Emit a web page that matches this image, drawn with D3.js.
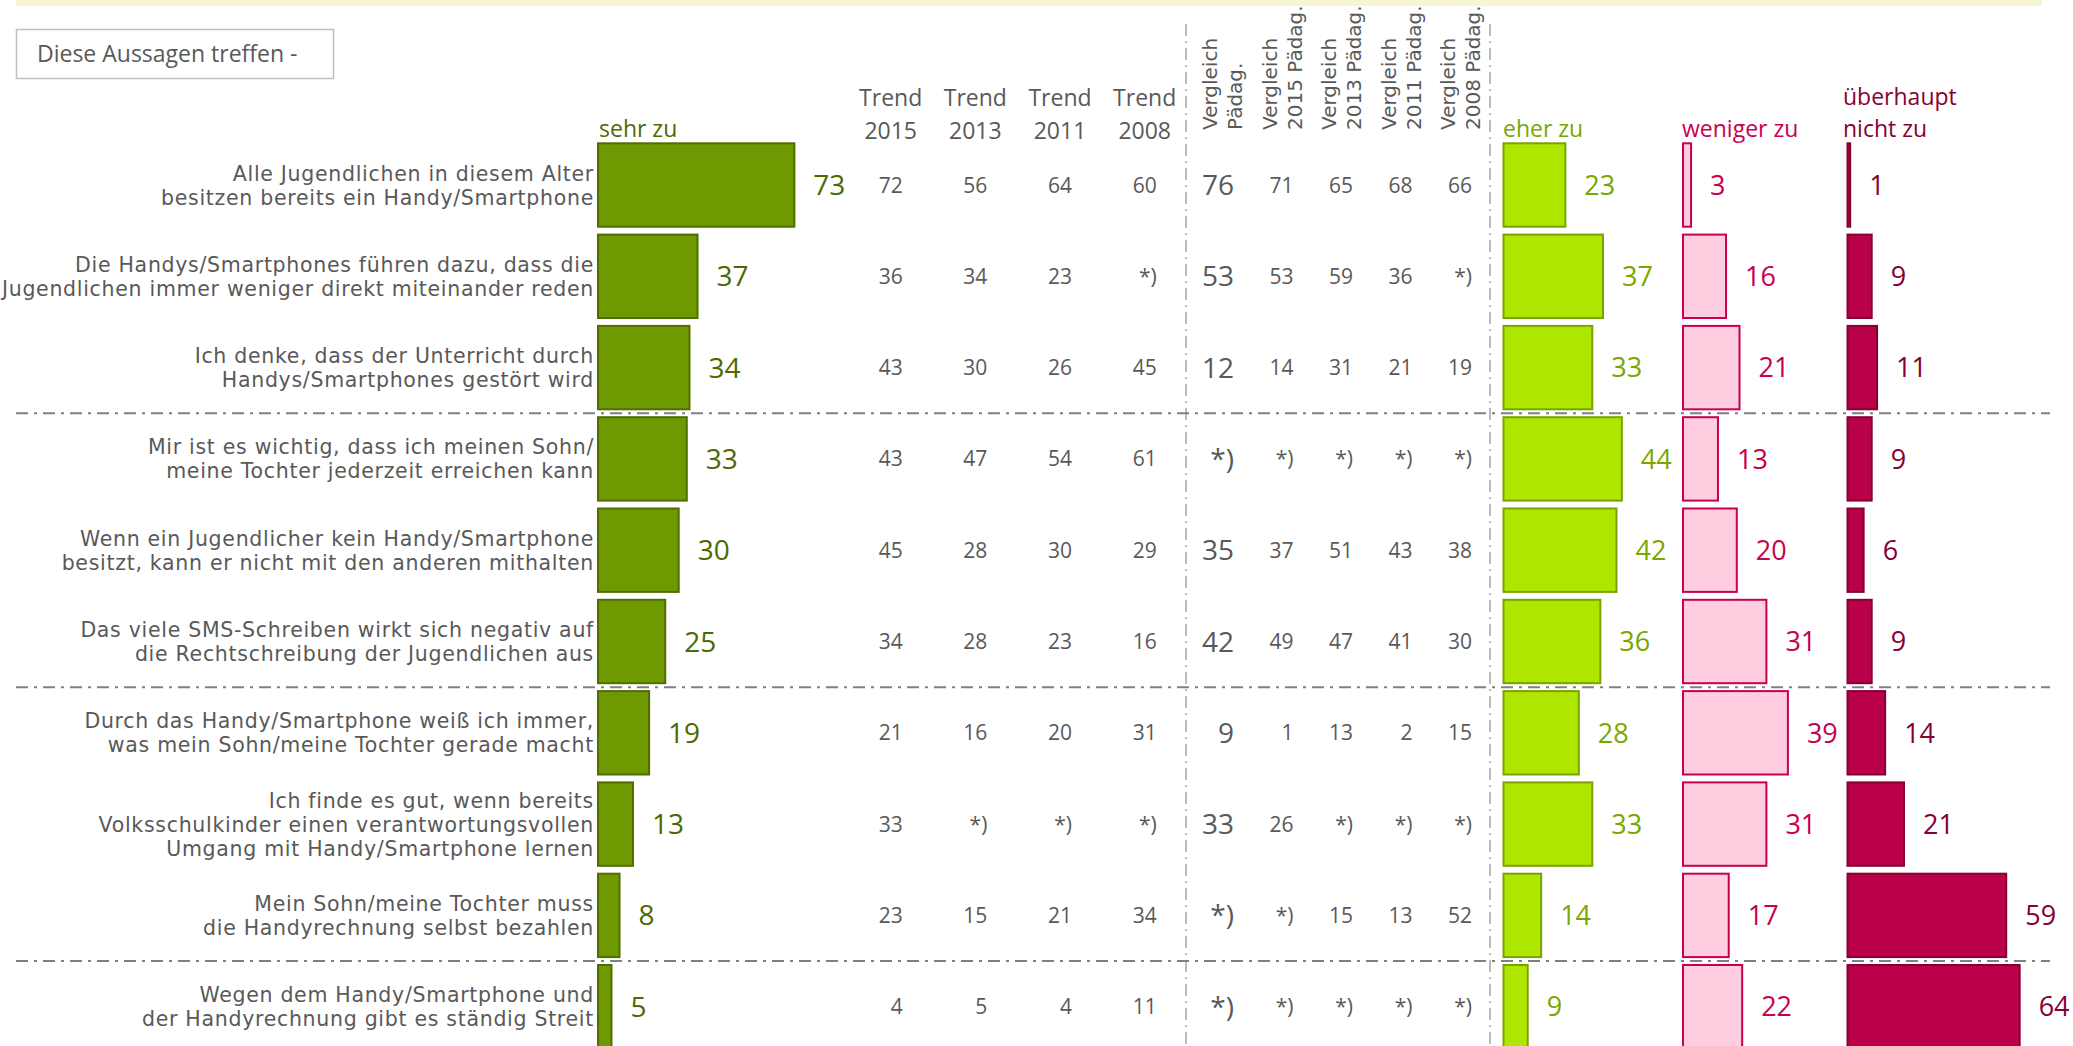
<!DOCTYPE html>
<html lang="de">
<head>
<meta charset="UTF-8">
<script src="https://d3js.org/d3.v7.min.js"></script>
<style>
  body { margin: 0; background: #fff; }
  svg { display: block; font-family: "Open Sans", Lato, sans-serif; }
  .lbl, .vert { font-family: "DejaVu Sans", Verdana, sans-serif; }
</style>
</head>
<body>
<div id="chart"></div>
<script>
// statements (row labels, split into lines)
const statements = [
  ["Alle Jugendlichen in diesem Alter", "besitzen bereits ein Handy/Smartphone"],
  ["Die Handys/Smartphones führen dazu, dass die", "Jugendlichen immer weniger direkt miteinander reden"],
  ["Ich denke, dass der Unterricht durch", "Handys/Smartphones gestört wird"],
  ["Mir ist es wichtig, dass ich meinen Sohn/", "meine Tochter jederzeit erreichen kann"],
  ["Wenn ein Jugendlicher kein Handy/Smartphone", "besitzt, kann er nicht mit den anderen mithalten"],
  ["Das viele SMS-Schreiben wirkt sich negativ auf", "die Rechtschreibung der Jugendlichen aus"],
  ["Durch das Handy/Smartphone weiß ich immer,", "was mein Sohn/meine Tochter gerade macht"],
  ["Ich finde es gut, wenn bereits", "Volksschulkinder einen verantwortungsvollen", "Umgang mit Handy/Smartphone lernen"],
  ["Mein Sohn/meine Tochter muss", "die Handyrechnung selbst bezahlen"],
  ["Wegen dem Handy/Smartphone und", "der Handyrechnung gibt es ständig Streit"]
];

// answer shares in %
const sehrZu    = [73, 37, 34, 33, 30, 25, 19, 13, 8, 5];
const eherZu    = [23, 37, 33, 44, 42, 36, 28, 33, 14, 9];
const wenigerZu = [3, 16, 21, 13, 20, 31, 39, 31, 17, 22];
const nichtZu   = [1, 9, 11, 9, 6, 9, 14, 21, 59, 64];

// trend values (null = *) )
const trendLabels = ["2015", "2013", "2011", "2008"];
const trend2015 = [72, 36, 43, 43, 45, 34, 21, 33, 23, 4];
const trend2013 = [56, 34, 30, 47, 28, 28, 16, null, 15, 5];
const trend2011 = [64, 23, 26, 54, 30, 23, 20, null, 21, 4];
const trend2008 = [60, null, 45, 61, 29, 16, 31, null, 34, 11];

// comparison with teachers (Pädagogen)
const paedLabels = [["Vergleich", "Pädag."], ["Vergleich", "2015 Pädag."], ["Vergleich", "2013 Pädag."],
                    ["Vergleich", "2011 Pädag."], ["Vergleich", "2008 Pädag."]];
const paedNow  = [76, 53, 12, null, 35, 42, 9, 33, null, null];
const paed2015 = [71, 53, 14, null, 37, 49, 1, 26, null, null];
const paed2013 = [65, 59, 31, null, 51, 47, 13, null, 15, null];
const paed2011 = [68, 36, 21, null, 43, 41, 2, null, 13, null];
const paed2008 = [66, null, 19, null, 38, 30, 15, null, 52, null];

// groups of rows separated by dash-dot lines (index of first row after line)
const groupBreaks = [3, 6, 9];

const width = 2073, height = 1046;
const grey = "#595959";

const svg = d3.select("#chart").append("svg")
    .attr("width", width)
    .attr("height", height)
    .attr("viewBox", [0, 0, width, height]);

const rows = d3.range(statements.length);
const y = d3.scaleBand()
    .domain(rows)
    .range([139.35, 139.35 + 91.3 * rows.length])
    .paddingInner(0.0865)
    .paddingOuter(0.0433);
const yMid = i => y(i) + y.bandwidth() / 2;

// one shared length scale for all four bar columns
const w = d3.scaleLinear().domain([0, 100]).range([0, 269]);

const barCols = [
  {key: "sehr zu", data: sehrZu, x0: 598, fill: "#6f9900", stroke: "#4f6e00", text: "#4d6a00", size: 28},
  {key: "eher zu", data: eherZu, x0: 1503.5, fill: "#aee600", stroke: "#78a300", text: "#78a800", size: 27},
  {key: "weniger zu", data: wenigerZu, x0: 1683, fill: "#ffcde0", stroke: "#c8004f", text: "#c8004f", size: 27},
  {key: "nicht zu", data: nichtZu, x0: 1847.5, fill: "#bb004a", stroke: "#860033", text: "#860033", size: 27}
];

// vertical dash-dot lines
svg.append("g")
  .selectAll("line")
  .data([1186, 1490])
  .join("line")
    .attr("x1", d => d).attr("x2", d => d)
    .attr("y1", 24).attr("y2", height)
    .attr("stroke", "#a6a6a6")
    .attr("stroke-width", 1.5)
    .attr("stroke-dasharray", "12,5,2,5");

// horizontal separators
svg.append("g")
  .selectAll("line")
  .data(groupBreaks)
  .join("line")
    .attr("x1", 16).attr("x2", 2050)
    .attr("y1", d => (y(d - 1) + y.bandwidth() + y(d)) / 2)
    .attr("y2", d => (y(d - 1) + y.bandwidth() + y(d)) / 2)
    .attr("stroke", "#808080")
    .attr("stroke-width", 2)
    .attr("stroke-dasharray", "12,6,3,6");

// header box
svg.append("rect")
    .attr("x", 16.5).attr("y", 29.5)
    .attr("width", 317).attr("height", 49)
    .attr("fill", "#fff")
    .attr("stroke", "#bfbfbf")
    .attr("stroke-width", 1.5);
svg.append("text")
    .attr("x", 37).attr("y", 62)
    .attr("fill", grey)
    .style("font-size", "23px")
    .text("Diese Aussagen treffen -");

// row labels
const labels = svg.append("g")
    .attr("class", "lbl")
    .attr("text-anchor", "end")
    .attr("fill", grey)
    .style("font-size", "20.5px")
    .style("letter-spacing", "0.7px");
labels.selectAll("text")
  .data(rows)
  .join("text")
    .attr("x", 594)
    .attr("y", i => yMid(i) - (statements[i].length - 1) * 12 + 7.5)
    .selectAll("tspan")
    .data(i => statements[i])
    .join("tspan")
      .attr("x", 594)
      .attr("dy", (d, j) => j === 0 ? 0 : 24)
      .text(d => d);

// bar columns
barCols.forEach(c => {
  const g = svg.append("g");
  g.selectAll("rect")
    .data(c.data)
    .join("rect")
      .attr("x", c.x0)
      .attr("y", (d, i) => y(i))
      .attr("width", d => w(d))
      .attr("height", y.bandwidth())
      .attr("fill", c.fill)
      .attr("stroke", c.stroke)
      .attr("stroke-width", 2);
  g.selectAll("text")
    .data(c.data)
    .join("text")
      .attr("x", d => c.x0 + w(d) + 19)
      .attr("y", (d, i) => yMid(i))
      .attr("dy", "0.36em")
      .attr("fill", c.text)
      .style("font-size", c.size + "px")
      .text(d => d);
});

// bar column headers
svg.append("text").attr("x", 599).attr("y", 137).attr("fill", "#4d6a00")
    .style("font-size", "23px").text("sehr zu");
svg.append("text").attr("x", 1503).attr("y", 137).attr("fill", "#78a800")
    .style("font-size", "23px").text("eher zu");
svg.append("text").attr("x", 1682).attr("y", 137).attr("fill", "#c8004f")
    .style("font-size", "23px").text("weniger zu");
svg.append("text").attr("x", 1843).attr("y", 105).attr("fill", "#860033")
    .style("font-size", "23px").text("überhaupt");
svg.append("text").attr("x", 1843).attr("y", 137).attr("fill", "#860033")
    .style("font-size", "23px").text("nicht zu");

const fmt = v => v == null ? "*)" : v;

// trend columns
const trendData = [trend2015, trend2013, trend2011, trend2008];
const xt = d3.scalePoint().domain(trendLabels).range([902.7, 1156.7]);
trendLabels.forEach((lab, k) => {
  const g = svg.append("g").attr("fill", grey);
  g.append("text")
      .attr("x", xt(lab) - 12).attr("y", 106)
      .attr("text-anchor", "middle")
      .style("font-size", "23px")
      .text("Trend");
  g.append("text")
      .attr("x", xt(lab) - 12).attr("y", 139)
      .attr("text-anchor", "middle")
      .style("font-size", "23px")
      .text(lab);
  g.selectAll("text.v")
    .data(trendData[k])
    .join("text")
      .attr("class", "v")
      .attr("x", xt(lab))
      .attr("y", (d, i) => yMid(i))
      .attr("dy", "0.36em")
      .attr("text-anchor", "end")
      .style("font-size", "21px")
      .text(fmt);
});

// comparison columns
const paedData = [paedNow, paed2015, paed2013, paed2011, paed2008];
const xp = d3.scalePoint().domain(d3.range(paedLabels.length)).range([1234, 1472]);
paedLabels.forEach((lab, k) => {
  const g = svg.append("g").attr("fill", grey);
  g.append("text")
      .attr("class", "vert")
      .attr("transform", `translate(${xp(k) + 8},130) rotate(-90)`)
      .style("font-size", "20px")
      .selectAll("tspan")
      .data(lab)
      .join("tspan")
        .attr("x", 0)
        .attr("y", (d, j) => (j - 1) * 25)
        .text(d => d);
  g.selectAll("text.v")
    .data(paedData[k])
    .join("text")
      .attr("class", "v")
      .attr("x", xp(k))
      .attr("y", (d, i) => yMid(i))
      .attr("dy", "0.36em")
      .attr("text-anchor", "end")
      .style("font-size", k === 0 ? "28px" : "21px")
      .text(fmt);
});

// top band
svg.append("rect")
    .attr("x", 16).attr("y", 0)
    .attr("width", 2026).attr("height", 6)
    .attr("fill", "#f7f6d3");
</script>
</body>
</html>
